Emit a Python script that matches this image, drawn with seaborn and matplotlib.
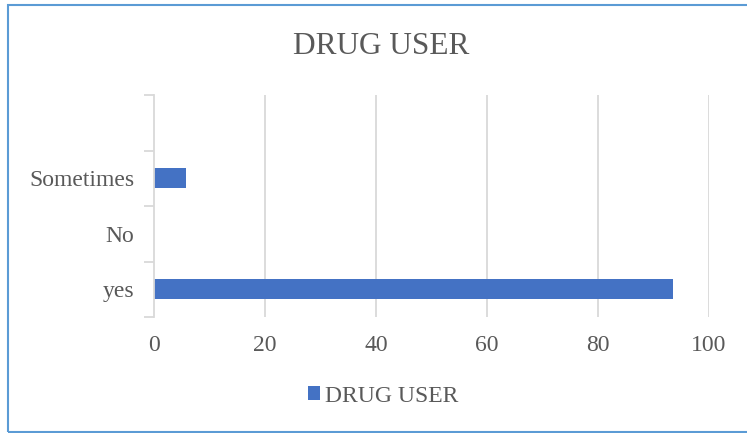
import matplotlib
matplotlib.use("Agg")
import matplotlib.pyplot as plt
import seaborn as sns
import pandas as pd
from matplotlib.patches import Patch, Rectangle
from matplotlib.ticker import FixedLocator

# Survey answers (top to bottom); the blank slot is an unused category
categories = ["", "Sometimes", "No", "yes"]
values = [float("nan"), 5.8, 0.0, 93.5]
x_ticks = [0, 20, 40, 60, 80, 100]
series_name = "DRUG USER"

bar_color = "#4472C4"
text_color = "#595959"
grid_color = "#D9D9D9"
frame_color = "#5B9BD5"

sns.set_theme(style="white")
plt.rcParams["font.family"] = ["Liberation Serif", "DejaVu Serif"]

df = pd.DataFrame({"answer": categories, "pct": values})

fig = plt.figure(figsize=(7.47, 4.33), dpi=100)
ax = fig.add_axes([154 / 747, 1 - 317 / 433, (709 - 154) / 747, (317 - 95) / 433])

sns.barplot(data=df, x="pct", y="answer", order=categories, orient="h",
            color=bar_color, saturation=1, width=0.36, linewidth=0, ax=ax)

ax.set_xlim(0, 100)
ax.set_ylim(3.5, -0.5)
ax.set_xticks(x_ticks)
ax.set_xticklabels([str(t) for t in x_ticks])
ax.set_xlabel("")
ax.set_ylabel("")

# vertical gridlines
for t in x_ticks[1:]:
    ax.axvline(t, color=grid_color, lw=1.3, zorder=0)

for side in ["top", "right", "bottom"]:
    ax.spines[side].set_visible(False)
ax.spines["left"].set_color(grid_color)
ax.spines["left"].set_linewidth(1.3)

ax.tick_params(axis="x", length=0, pad=13, labelsize=17, labelcolor=text_color)
ax.tick_params(axis="y", which="major", length=0, pad=14, labelsize=17, labelcolor=text_color)
ax.yaxis.set_minor_locator(FixedLocator([-0.5, 0.5, 1.5, 2.5, 3.5]))
ax.tick_params(axis="y", which="minor", left=True, length=7, width=1.3,
               color=grid_color, direction="out")

fig.text(381 / 747, 1 - 46 / 433, series_name, ha="center", va="center",
         fontsize=22.5, color=text_color)

handle = Patch(facecolor=bar_color, edgecolor="none")
fig.legend([handle], [series_name], loc="center", bbox_to_anchor=(383 / 747, 1 - 396 / 433),
           frameon=False, fontsize=17, handlelength=0.5, handleheight=0.5,
           handletextpad=0.2, labelcolor=text_color)

# chart frame
fig.patches.append(Rectangle((8 / 747, 1.5 / 433), 745 / 747, (428.5 - 1.5) / 433,
                             transform=fig.transFigure, fill=False,
                             edgecolor=frame_color, lw=1.5))

fig.savefig("out.png", dpi=100)
